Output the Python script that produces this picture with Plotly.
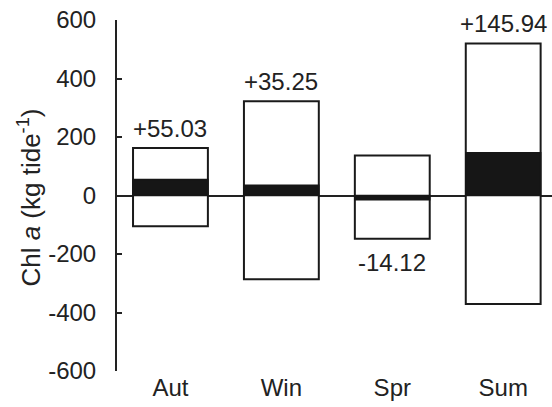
import plotly.graph_objects as go

# Seasonal chlorophyll a fluxes per tide
seasons = ["Aut", "Win", "Spr", "Sum"]
flux_in = [162, 322, 137, 520]        # upper edge of each box
flux_out = [-105, -286, -148, -371]   # lower edge of each box
net_flux = [55.03, 35.25, -14.12, 145.94]
net_labels = ["+55.03", "+35.25", "-14.12", "+145.94"]
y_ticks = [-600, -400, -200, 0, 200, 400, 600]
y_tick_labels = ["-600", "-400", "-200", "0", "200", "400", "600"]

x = list(range(len(seasons)))
font_family = "Liberation Sans, Arial, sans-serif"
text_color = "#222222"
bar_w = 0.675

fig = go.Figure()

# Range boxes (white with black outline)
fig.add_trace(go.Bar(
    x=x, y=[hi - lo for hi, lo in zip(flux_in, flux_out)], base=flux_out,
    width=bar_w, marker=dict(color="white", line=dict(color="#1a1a1a", width=2)),
    hoverinfo="skip", showlegend=False,
))

# Net flux bars (solid black)
fig.add_trace(go.Bar(
    x=x, y=net_flux, base=[0] * len(x),
    width=bar_w, marker=dict(color="#161616", line=dict(color="#161616", width=1.5)),
    hoverinfo="skip", showlegend=False,
))

# Net value labels: above the box for gains, below for losses
for xi, hi, lo, n, lab in zip(x, flux_in, flux_out, net_flux, net_labels):
    gain = n >= 0
    fig.add_annotation(
        x=xi, y=hi if gain else lo, text=lab, showarrow=False,
        xanchor="center", yanchor="bottom" if gain else "top",
        yshift=4 if gain else -8,
        font=dict(family=font_family, size=24, color=text_color),
    )

# Rotated axis title
fig.add_annotation(
    xref="paper", yref="paper", x=-0.2, y=0.494,
    text="Chl <i>a</i> (kg tide<sup>-1</sup>)", textangle=-90, showarrow=False,
    xanchor="center", yanchor="middle",
    font=dict(family=font_family, size=26, color=text_color),
)

fig.update_layout(
    width=552, height=407,
    margin=dict(l=117, r=0, t=20, b=36),
    paper_bgcolor="white", plot_bgcolor="white",
    barmode="overlay",
    font=dict(family=font_family, size=24, color=text_color),
    xaxis=dict(
        range=[-0.482, 3.44], tickmode="array", tickvals=x, ticktext=seasons,
        showline=False, showgrid=False, zeroline=False, ticks="",
        tickfont=dict(size=24), fixedrange=True,
    ),
    yaxis=dict(
        range=[-600, 600], tickmode="array",
        tickvals=y_ticks, ticktext=y_tick_labels,
        showline=True, linecolor=text_color, linewidth=2,
        ticks="inside", ticklen=5, tickwidth=2, tickcolor=text_color,
        showgrid=False, zeroline=True, zerolinecolor=text_color, zerolinewidth=2,
        tickfont=dict(size=24), ticklabelstandoff=14,
        layer="above traces",
    ),
)

fig.write_html("out.html")
